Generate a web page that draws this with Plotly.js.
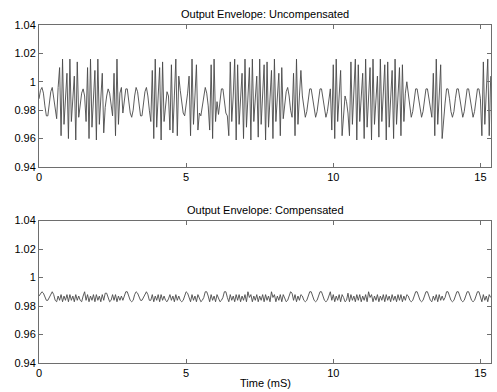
<!DOCTYPE html>
<html><head><meta charset="utf-8">
<script src="https://cdn.plot.ly/plotly-3.0.1.min.js"></script>
<style>html,body{margin:0;padding:0;background:#fff}</style>
</head><body><div id="chart" style="width:497px;height:392px"></div>
<script>
// sample step of the recorded envelopes (ms)
const sampleStep = 0.05;
const xTicks = [0, 5, 10, 15];
const yTicks = [0.94, 0.96, 0.98, 1.00, 1.02, 1.04];
const yTickText = ['0.94', '0.96', '0.98', '1', '1.02', '1.04'];
const titleTop = 'Output Envelope: Uncompensated';
const titleBottom = 'Output Envelope: Compensated';
const xLabel = 'Time (mS)';

const uncompensated = [
0.988,0.994,0.996,0.992,0.983,0.976,0.976,0.984,0.993,0.996,0.989,0.979,0.974,
0.996,1.010,0.962,1.016,0.970,0.990,1.006,0.960,1.016,0.972,0.986,1.004,0.959,1.014,0.975,
0.982,0.992,0.995,0.990,
0.972,1.010,0.960,1.016,0.968,0.992,1.008,0.959,1.016,0.970,0.988,1.006,0.964,0.982,
0.990,0.995,0.992,0.982,0.976,
1.006,0.962,1.016,0.970,0.992,0.996,
0.978,0.988,0.995,0.995,0.987,0.978,0.975,0.980,0.990,0.996,0.993,0.983,0.976,0.976,0.984,0.993,0.996,0.990,0.980,
0.972,1.008,0.960,1.016,0.968,0.990,1.010,0.959,1.014,0.972,
0.984,0.993,0.990,
0.966,1.012,0.964,0.990,1.016,0.962,1.004,
0.994,0.986,0.978,0.976,0.983,0.992,
1.004,0.962,1.016,0.970,0.990,1.012,0.966,
0.978,0.976,0.982,0.991,0.996,0.992,0.983,
0.966,1.012,0.960,1.016,0.972,0.986,
0.977,0.986,0.995,0.995,0.987,0.978,0.976,
0.962,1.014,0.972,0.990,1.016,0.959,1.012,0.970,0.988,1.006,
0.960,1.016,0.968,0.992,1.010,0.959,1.016,0.972,0.986,1.004,
0.961,1.016,0.970,0.990,1.012,0.959,1.014,0.968,0.990,1.008,
0.960,1.016,0.972,0.988,1.006,0.962,1.010,0.974,
0.984,0.993,0.996,0.990,0.980,0.975,
1.006,0.962,1.016,0.970,0.990,1.008,
0.990,0.980,0.975,0.979,0.988,0.995,0.995,0.988,0.979,0.975,0.979,0.988,0.995,0.995,0.988,0.979,0.975,0.979,0.988,0.995,
0.966,1.012,0.960,1.016,0.972,0.988,1.008,0.962,
0.980,0.990,0.986,0.978,
0.962,1.014,0.970,0.990,1.016,0.959,1.012,0.972,0.988,1.006,
0.960,1.016,0.968,0.992,1.010,0.959,1.016,0.970,0.986,1.004,
0.961,1.016,0.972,0.990,1.012,0.959,1.014,0.968,0.990,1.008,
0.960,1.016,0.970,0.988,1.010,0.962,1.012,0.972,0.992,1.000,
0.990,0.980,0.975,0.979,0.988,0.995,0.995,0.988,0.979,0.975,0.979,0.988,0.995,0.995,0.988,0.979,0.975,
1.006,0.962,1.016,0.970,0.990,1.012,0.960,0.976,
0.985,0.995,0.995,0.988,0.979,0.975,0.979,0.988,0.995,0.995,0.988,0.979,0.975,0.979,0.988,0.995,0.995,0.988,0.979,0.975,0.979,0.988,0.995,0.995,0.988,
0.962,1.014,0.970,0.990,1.016,0.962,1.004
];

const compensated = [
0.987,0.989,0.990,0.989,0.986,0.984,0.984,0.986,0.989,0.990,0.988,0.984,0.983,
0.987,0.984,0.988,0.983,0.987,0.984,0.988,0.983,0.988,0.984,0.987,0.983,0.988,0.984,0.987,
0.984,0.983,0.987,0.990,
0.984,0.988,0.983,0.987,0.984,0.988,0.983,0.988,0.984,0.987,0.983,0.988,0.984,0.989,
0.989,0.985,0.983,0.984,0.988,
0.984,0.988,0.983,0.987,0.984,0.987,
0.984,0.987,0.990,0.990,0.987,0.984,0.983,0.984,0.988,0.990,0.989,0.986,0.984,0.984,0.986,0.989,0.990,0.988,0.984,
0.984,0.988,0.983,0.987,0.984,0.988,0.983,0.988,0.984,0.987,
0.984,0.983,0.985,
0.988,0.984,0.987,0.983,0.988,0.984,0.987,
0.984,0.983,0.984,0.987,0.990,0.989,
0.986,0.983,0.988,0.984,0.987,0.983,0.988,
0.986,0.983,0.984,0.986,0.990,0.990,0.987,
0.983,0.988,0.984,0.987,0.983,0.988,
0.986,0.983,0.984,0.986,0.990,0.990,0.986,
0.983,0.988,0.984,0.987,0.983,0.988,0.984,0.988,0.983,0.987,0.984,0.988,0.983,0.990,0.986,0.988,0.983,0.987,0.984,0.988,
0.983,0.987,0.984,0.988,0.983,0.988,0.984,0.987,0.983,0.990,0.986,0.988,0.983,0.987,0.984,0.988,0.983,0.988,
0.986,0.983,0.984,0.987,0.990,0.989,
0.984,0.988,0.983,0.987,0.984,0.988,
0.987,0.984,0.983,0.984,0.987,0.990,0.990,0.987,0.984,0.983,0.984,0.987,0.990,0.990,0.987,0.984,0.983,0.984,0.987,0.990,
0.984,0.988,0.983,0.987,0.984,0.988,0.983,0.988,
0.986,0.983,0.984,0.989,
0.983,0.988,0.984,0.987,0.983,0.988,0.984,0.988,0.983,0.987,0.984,0.988,0.983,0.990,0.986,0.988,0.983,0.987,0.984,0.988,
0.983,0.987,0.984,0.988,0.983,0.988,0.984,0.987,0.983,0.988,0.984,0.987,0.983,0.988,0.984,0.988,0.983,0.987,0.984,0.988,
0.987,0.984,0.983,0.984,0.987,0.990,0.990,0.987,0.984,0.983,0.984,0.987,0.990,0.990,0.987,0.984,0.983,
0.987,0.984,0.988,0.983,0.988,0.984,0.987,0.984,
0.986,0.990,0.990,0.987,0.984,0.983,0.984,0.987,0.990,0.990,0.987,0.984,0.983,0.984,0.987,0.990,0.990,0.987,0.984,0.983,0.984,0.987,0.990,0.990,0.987,
0.983,0.988,0.984,0.987,0.983,0.988,0.986
];

const lineStyle = {color: '#4a4a4a', width: 0.9};
const traces = [
  {type: 'scatter', mode: 'lines', y: uncompensated, x0: 0, dx: sampleStep, line: lineStyle, xaxis: 'x', yaxis: 'y', hoverinfo: 'skip'},
  {type: 'scatter', mode: 'lines', y: compensated, x0: 0, dx: sampleStep, line: lineStyle, xaxis: 'x2', yaxis: 'y2', hoverinfo: 'skip'}
];

const axisCommon = {
  showline: true, mirror: 'ticks', linecolor: '#6e6e6e', linewidth: 1,
  ticks: 'inside', ticklen: 4, tickcolor: '#6e6e6e', tickwidth: 1,
  showgrid: false, zeroline: false, fixedrange: true,
  tickfont: {family: 'Liberation Sans, Arial, sans-serif', size: 11, color: '#000'}
};
const xAxis = (anchor) => Object.assign({}, axisCommon, {anchor: anchor, range: [0, 15.36], tickmode: 'array', tickvals: xTicks, ticktext: xTicks.map(String)});
const yAxis = (anchor, domain) => Object.assign({}, axisCommon, {anchor: anchor, domain: domain, range: [0.94, 1.04], tickmode: 'array', tickvals: yTicks, ticktext: yTickText});

const layout = {
  width: 497, height: 392,
  margin: {l: 39, r: 6, t: 25, b: 29, pad: 0},
  paper_bgcolor: '#fff', plot_bgcolor: '#fff',
  showlegend: false,
  font: {family: 'Liberation Sans, Arial, sans-serif', size: 11, color: '#000'},
  xaxis: xAxis('y'),
  yaxis: yAxis('x', [0.58, 1]),
  xaxis2: xAxis('y2'),
  yaxis2: yAxis('x2', [0, 0.4215]),
  annotations: [
    {text: titleTop, xref: 'paper', yref: 'paper', x: 0.5, y: 1.0325, xanchor: 'center', yanchor: 'middle', showarrow: false, font: {size: 11}},
    {text: titleBottom, xref: 'paper', yref: 'paper', x: 0.5, y: 0.453, xanchor: 'center', yanchor: 'middle', showarrow: false, font: {size: 11}},
    {text: xLabel, xref: 'paper', yref: 'paper', x: 0.5, y: -0.059, xanchor: 'center', yanchor: 'middle', showarrow: false, font: {size: 11}}
  ]
};

Plotly.newPlot('chart', traces, layout, {staticPlot: true, displayModeBar: false});
</script>
</body></html>
